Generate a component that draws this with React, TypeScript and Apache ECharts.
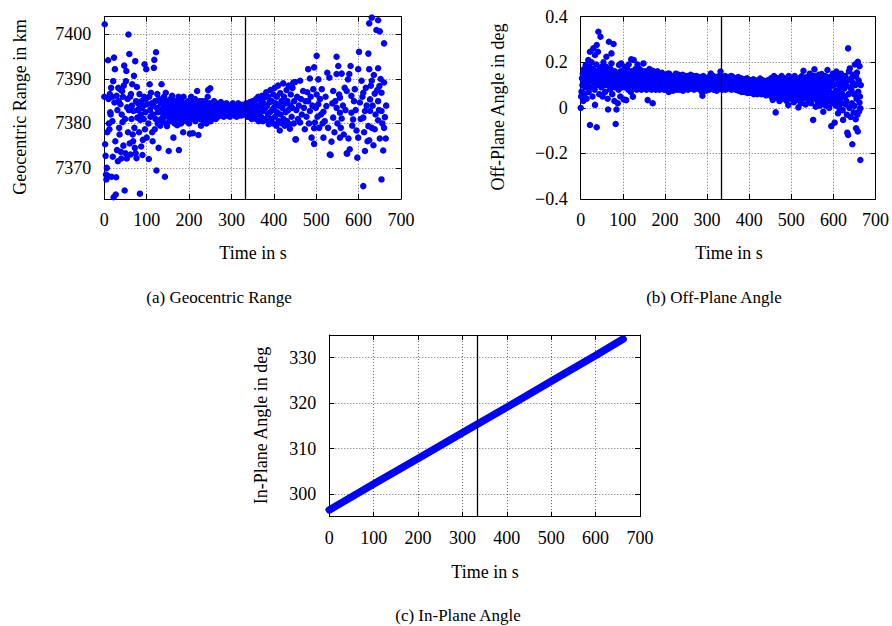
import React, { useEffect, useRef } from "react";
import * as echarts from "echarts";

const FONT = '"Liberation Serif", "Times New Roman", serif';

// (a) Geocentric range: [time in s, range in km]
const geocentricRange: [number, number][] = [
  [0,7386],[1,7402.3],[2,7375.3],[3,7372.7],[4,7368.5],[5,7367.4],[6,7370],[7,7378],[8,7368.2],[9,7394.2],[10,7385.5],[11,7380],[12,7378.7],[13,7386.6],[14,7382.5],[15,7382],[16,7388],[17,7368],[18,7386],[19,7380.5],[20,7372.5],[21,7389.5],[22,7363.4],[23,7394.8],[24,7384.7],[25,7392.2],[26,7376],[27,7364],[28,7367.9],[29,7386.2],[30,7374],[31,7383],[32,7371.5],[33,7388],[34,7385],[35,7379],[36,7377.5],[37,7387.7],[38,7384.3],[39,7373.6],[40,7372.1],[41,7382],[42,7387.3],[43,7380.3],[44,7386],[45,7375],[46,7388.5],[47,7393],[48,7364.9],[49,7381],[50,7373.3],[51,7389.5],[52,7391.8],[53,7372.1],[54,7383.6],[55,7385.5],[56,7378],[57,7400],[58,7383],[59,7395.6],[60,7375.5],[61,7386],[62,7373],[63,7386.6],[64,7381],[65,7384],[66,7388.8],[67,7377.5],[68,7376],[69,7382.8],[70,7390.7],[71,7379],[72,7374.5],[73,7394],[74,7373.3],[75,7385],[76,7372.2],[77,7388.2],[78,7381.3],[79,7383],[80,7384.5],[81,7383.2],[82,7378],[83,7386.6],[84,7364.2],[85,7380.8],[86,7382],[87,7374.8],[88,7385],[89,7383.5],[90,7372.9],[91,7376.3],[92,7384],[93,7381],[94,7386],[95,7393.3],[96,7378.7],[97,7382.5],[98,7385.5],[99,7392.2],[100,7376.8],
  [102,7384.3],[104,7380],[105,7372],[106,7386],[107,7388.8],[108,7383],[109,7381.5],[110,7386.9],[111,7381.6],[112,7384.5],[113,7378],[114,7376],[115,7384],[116,7382],[117,7392.5],[118,7394.3],[119,7378.7],[120,7385],[121,7381],[122,7396],[123,7369.4],[124,7383.5],[125,7386.6],[126,7380],[127,7382.5],[128,7374.5],[129,7385.5],[130,7383],[131,7382.8],[132,7379.5],[133,7384.5],[134,7381],[135,7388.8],[136,7383],[137,7385],[138,7380.5],[139,7382],[140,7384],[141,7386],[142,7381.5],[143,7368],[144,7383],[145,7386.9],[146,7380],[147,7383.6],[148,7379.4],[149,7385],[150,7382],[152,7373.8],[153,7384.5],[154,7381],[155,7383],[156,7385.5],[157,7380.5],[158,7382.5],[159,7384],[160,7386.2],[161,7381.8],[162,7383.5],[163,7376.8],[164,7385],[165,7382],[166,7380],[167,7384.6],[168,7383],[169,7381],[170,7385],[171,7382],[172,7379.6],[173,7383.5],[174,7381.5],[175,7386],[176,7374],[177,7383],[178,7381],[179,7384],[180,7382.5],[181,7380],[182,7385],[183,7383],[184,7381.5],[185,7384],[186,7378],[187,7386],[188,7382],[189,7383.8],[190,7381],[191,7384.5],[192,7382.5],[193,7380.5],[194,7383],[195,7384.3],[196,7381.5],[197,7383],[198,7385],[199,7382],[200,7380],
  [202,7377.7],[203,7384],[204,7382],[205,7386],[206,7381],[207,7383.5],[208,7385],[209,7377.8],[210,7382.5],[211,7384],[212,7381],[213,7383],[214,7385.5],[215,7380.5],[216,7383],[217,7382],[218,7384.5],[219,7387.3],[220,7381.5],[221,7383],[222,7377.4],[223,7384],[224,7382],[225,7385],[226,7381],[227,7383.5],[228,7379.5],[229,7384],[230,7382.5],[231,7385],[232,7381],[233,7383],[234,7384.5],[235,7380.5],[236,7383],[237,7382],[238,7385],[239,7381.5],[240,7383.5],[241,7380],[242,7384],[243,7382.5],[244,7386],[245,7387.5],[246,7381],[247,7383],[248,7384.5],[249,7382],[250,7387.9],[251,7380.5],[252,7383.5],[254,7382],[255,7384.5],[256,7381.5],[258,7383],[259,7385],[260,7382],[262,7383.8],[263,7381],[264,7384.5],[266,7382.5],[267,7383.5],[268,7381.5],[270,7384],[271,7382.8],[272,7383.5],[274,7381.8],[275,7384.8],[276,7383],[278,7382.2],[279,7384.2],[280,7383],[282,7381.5],[283,7384],[284,7382.8],[286,7383.8],[287,7382],[288,7384.5],[290,7383],[291,7381.8],[292,7384],[294,7382.5],[295,7383.5],[296,7381.5],[298,7384],[299,7382.8],[300,7383.5],[302,7382],[303,7384.5],[304,7383],[306,7381.8],[307,7383.8],[308,7382.5],[310,7384],[311,7383],[312,7381.5],[314,7383.5],[315,7382.2],[316,7384.5],[318,7383],[319,7381.8],[320,7384],[322,7382.5],[323,7383.5],[324,7381.8],[326,7384.2],[327,7383],[328,7382],[330,7384],[331,7382.5],[332,7383.5],
  [334,7382],[335,7384.5],[336,7383],[338,7381.5],[339,7384],[340,7382.8],[342,7383.8],[343,7381.5],[344,7384.8],[346,7382.5],[347,7383.5],[348,7381],[350,7385],[351,7382],[352,7383.8],[354,7381.2],[355,7384.5],[356,7383],[358,7385.5],[359,7381],[360,7383.5],[362,7382],[363,7386],[364,7380.5],[366,7384],[367,7382.5],[368,7385.2],[370,7381.5],[371,7383.8],[372,7386.2],[374,7380.5],[375,7384.5],[376,7382.8],[378,7385.8],[379,7381],[380,7383.5],[382,7387],[383,7380.8],[384,7384],[386,7382],[387,7386],[388,7379.8],[390,7384.8],[391,7382.5],[392,7387.5],[394,7381],[395,7385],[396,7383],[398,7380],[399,7386.5],[400,7383.5],[402,7388],[403,7381.5],[404,7384.5],[406,7379.5],[407,7386],[408,7382.5],[410,7388.5],[411,7380.5],[412,7384],[414,7378.4],[415,7386.8],[416,7382],[418,7385],[419,7380],[420,7383.5],[422,7389],[423,7381],[424,7386],[426,7379.5],[427,7384.5],[428,7382.5],[430,7387.5],[431,7380.5],[432,7385],[434,7383],[435,7388.5],[436,7379.8],[438,7378.8],[439,7384],[440,7386.5],[442,7381.5],[443,7383.5],[444,7388],[446,7389.2],[447,7380],[448,7385],[450,7389.3],[451,7376.4],[452,7376.4],[453,7383],
  [455,7386],[457,7381],[459,7384],[462,7389.6],[462,7380.2],[464,7385.5],[466,7382],[469,7387.3],[471,7383.5],[473,7378.7],[475,7385],[477,7381.5],[479,7387],[481,7392.2],[481,7385],[483,7380],[485,7390.1],[485,7382.8],[487,7386],[489,7376.8],[491,7384],[493,7387.7],[495,7392.6],[495,7378.9],[495,7375.4],[497,7380.2],[499,7383.5],[501,7395.2],[501,7386.5],[503,7381.5],[505,7389.9],[505,7384.3],[507,7379],[509,7385.5],[511,7382],[513,7387.7],[515,7380],[517,7382.6],[517,7376.8],[520,7380.5],[522,7386],[524,7383.9],[526,7391.4],[528,7379],[531,7390.3],[532,7373],[534,7372.9],[536,7375.9],[538,7384.5],[540,7387.3],[540,7381.3],[543,7378],[545,7385],[548,7395],[548,7391.1],[548,7383.5],[550,7380],[552,7392.9],[554,7386.5],[556,7385.8],[556,7382.4],[556,7376.8],[558,7379],[560,7391.2],[560,7381.1],[563,7384],[565,7377.5],[567,7388],[569,7383],[572,7387.3],[572,7373.3],[573,7373.2],[575,7389.9],[576,7376.6],[578,7391.1],[579,7374.2],[581,7392.9],[583,7386.2],[583,7382.4],[585,7379.5],[587,7380.9],[589,7385],[591,7387.7],[593,7383],[595,7378.4],[597,7372.3],[599,7392.2],[599,7376.8],[601,7396.1],[603,7384.7],[605,7381],[607,7389.6],[609,7386],[611,7386.9],[611,7381.3],[611,7365.9],[613,7378],[615,7382.8],[615,7373.8],[617,7388],[619,7384],[621,7376],[623,7395.7],[623,7379.4],[625,7402.5],[625,7392.2],[625,7376.2],[627,7385.4],[627,7382.8],[629,7388.5],[631,7403.8],[631,7389.6],[631,7379],[633,7384],[635,7375.1],[636,7390.9],[638,7386.7],[638,7378.7],[640,7382],[642,7401],[644,7387.5],[646,7403.2],[646,7392.4],[646,7385],[646,7380.7],[648,7383],[649,7388.4],[650,7400.7],[650,7376.6],[652,7390],[654,7386.9],[654,7382.8],[654,7367.4],[656,7380],[658,7373.9],[660,7398],[660,7389.2],[660,7379],[662,7381.4],[664,7376.6],[665,7384],
];

// (b) Off-plane angle: [time in s, angle in deg]
const offPlaneAngle: [number, number][] = [
  [0,0.0],[1,0.05],[2,0.071],[3,0.13],[4,0.1],[5,0.15],[6,0.03],[7,0.11],[8,0.17],[9,0.06],[10,0.122],[11,0.09],[12,0.188],[13,0.14],[14,0.04],[15,0.16],[16,0.1],[17,0.12],[18,0.21],[19,0.07],[20,0.15],[21,0.18],[22,0.246],[22,-0.075],[23,0.12],[24,0.09],[25,0.16],[26,0.2],[27,0.13],[28,0.05],[29,0.17],[30,0.261],[31,0.11],[32,0.14],[33,0.08],[34,0.232],[34,0.013],[35,0.16],[36,0.12],[37,0.19],[38,0.276],[38,-0.085],[39,0.1],[40,0.15],[41,0.246],[42,0.334],[43,0.13],[44,0.06],[45,0.17],[46,0.11],[47,0.312],[48,0.14],[49,0.09],[50,0.18],[51,0.12],[52,0.05],[53,0.15],[54,0.2],[55,0.1],[56,0.13],[57,0.16],[58,0.07],[59,0.12],[60,0.18],[61,0.224],[62,0.1],[63,0.14],[64,0.04],[65,-0.007],[66,0.16],[67,0.29],[68,0.11],[69,0.13],[70,0.08],[71,0.17],[72,0.12],[73,0.239],[73,0.195],[74,0.15],[75,0.06],[76,0.1],[77,0.14],[78,0.28],[79,0.11],[80,0.03],[81,0.16],[82,0.09],[83,-0.071],[84,0.13],[85,-0.007],[86,0.1],[87,0.15],[88,0.02],[89,0.12],[90,0.08],[91,0.188],[92,0.14],[93,0.1],[94,0.05],[95,0.16],[96,0.195],[97,0.12],[98,0.09],[100,0.14],
  [101,0.16],[102,0.037],[103,0.11],[104,0.18],[105,0.13],[106,0.09],[107,0.15],[108,0.034],[109,0.12],[110,0.17],[111,0.1],[112,0.14],[113,0.08],[114,0.19],[115,0.12],[116,0.15],[117,0.1],[118,0.13],[119,0.07],[120,0.213],[121,0.16],[122,0.11],[123,0.14],[124,0.049],[125,0.12],[126,0.21],[127,0.09],[128,0.15],[129,0.13],[130,0.17],[131,0.1],[132,0.12],[133,0.08],[134,0.15],[135,0.19],[136,0.11],[137,0.14],[138,0.09],[139,0.12],[140,0.17],[141,0.1],[142,0.13],[143,0.15],[144,0.08],[145,0.12],[146,0.16],[147,0.1],[148,0.14],[149,0.195],[150,0.11],[151,0.09],[152,0.13],[153,0.16],[154,0.1],[155,0.12],[156,0.08],[157,0.15],[158,0.11],[159,0.034],[160,0.14],[161,0.1],[162,0.12],[163,0.17],[164,0.09],[165,0.13],[166,0.11],[167,0.15],[168,0.08],[169,0.12],[170,0.14],[171,0.163],[171,0.02],[172,0.1],[173,0.12],[174,0.09],[175,0.15],[176,0.11],[177,0.13],[178,0.08],[179,0.14],[180,0.1],[181,0.12],[182,0.16],[183,0.09],[184,0.13],[185,0.11],[186,0.14],[187,0.08],[188,0.12],[189,0.1],[190,0.15],[191,0.11],[192,0.13],[193,0.154],[194,0.09],[195,0.12],[196,0.1],[197,0.14],[198,0.08],[199,0.12],
  [200,0.11],[201,0.13],[202,0.14],[203,0.08],[204,0.09],[205,0.115],[206,0.12],[207,0.15],[208,0.1],[209,0.07],[210,0.15],[211,0.11],[212,0.08],[213,0.135],[214,0.13],[215,0.095],[216,0.11],[217,0.12],[218,0.14],[219,0.075],[220,0.09],[221,0.13],[222,0.12],[223,0.1],[224,0.1],[225,0.14],[226,0.15],[227,0.085],[228,0.08],[229,0.12],[230,0.13],[231,0.095],[232,0.11],[233,0.145],[234,0.14],[235,0.08],[236,0.09],[237,0.125],[238,0.12],[239,0.1],[240,0.1],[241,0.135],[242,0.145],[243,0.075],[244,0.085],[245,0.115],[246,0.12],[247,0.095],[248,0.1],[249,0.14],[250,0.135],
  [251,0.09],[252,0.12],[253,0.1],[254,0.14],[255,0.08],[256,0.11],[257,0.13],[258,0.095],[259,0.12],[260,0.1],[261,0.145],[262,0.085],[263,0.11],[264,0.13],[265,0.09],[266,0.12],[267,0.1],[268,0.14],[269,0.08],[270,0.115],[271,0.13],[272,0.095],[273,0.12],[274,0.1],[275,0.14],[276,0.085],[277,0.11],[278,0.125],[279,0.09],[280,0.12],[281,0.1],[282,0.135],[283,0.08],[284,0.11],[285,0.13],[286,0.095],[287,0.12],[288,0.07],[289,0.053],[290,0.1],[291,0.14],[292,0.085],[293,0.115],[294,0.1],[295,0.13],[296,0.09],[297,0.12],[298,0.075],[299,0.105],[300,0.13],[301,0.09],[302,0.115],[303,0.1],[304,0.135],[305,0.08],[306,0.11],[307,0.125],[308,0.09],[309,0.151],[310,0.1],[311,0.13],[312,0.085],[313,0.115],[314,0.1],[315,0.14],[316,0.08],[317,0.11],[318,0.125],[319,0.095],[320,0.12],[321,0.1],[322,0.135],[323,0.075],[324,0.11],[325,0.13],[326,0.09],[327,0.115],[328,0.1],[329,0.14],[330,0.085],[331,0.12],[332,0.159],[333,0.095],[334,0.11],[335,0.13],[336,0.08],[337,0.115],[338,0.1],[339,0.135],[340,0.09],[341,0.12],[342,0.105],[343,0.14],[344,0.08],[345,0.11],[346,0.125],[347,0.09],[348,0.12],[349,0.1],[350,0.135],[351,0.085],[352,0.11],[353,0.13],[354,0.095],[355,0.115],[356,0.1],[357,0.14],[358,0.08],[359,0.12],[360,0.137],[361,0.09],[362,0.11],[363,0.125],[364,0.085],[365,0.115],[366,0.1],[367,0.13],[368,0.08],[369,0.11],[370,0.125],[371,0.09],[372,0.115],[373,0.1],[374,0.135],[375,0.075],[376,0.105],[377,0.12],[378,0.09],[379,0.11],[380,0.1],[381,0.13],[382,0.07],[383,0.1],[384,0.12],[385,0.085],[386,0.11],[387,0.095],[388,0.125],[389,0.07],[390,0.1],[391,0.12],[392,0.085],[393,0.11],[394,0.095],[395,0.13],[396,0.065],[397,0.1],[398,0.115],[399,0.122],[400,0.08],[401,0.105],[402,0.09],[403,0.12],[404,0.065],[405,0.1],[406,0.11],[407,0.08],[408,0.115],[409,0.095],[410,0.125],[411,0.06],[412,0.09],[413,0.11],[414,0.075],[415,0.1],[416,0.12],[417,0.085],[418,0.105],[419,0.06],[420,0.095],[421,0.115],[422,0.08],[423,0.1],[424,0.12],[425,0.07],[426,0.129],[427,0.09],[428,0.105],[429,0.06],[430,0.085],[431,0.11],[432,0.075],[433,0.1],[434,0.12],[435,0.065],[436,0.09],[437,0.105],[438,0.08],[439,0.115],[440,0.055],[441,0.095],[442,0.07],[443,0.1],[444,0.12],[445,0.08],[446,0.122],[447,0.06],[448,0.09],[449,0.105],[450,0.075],
  [452,0.13],[453,0.05],[454,0.09],[455,0.11],[456,0.035],[457,0.075],[458,0.1],[459,0.14],[460,0.06],[461,0.085],[462,0.12],[463,-0.02],[464,0.07],[465,0.1],[466,0.045],[467,0.13],[468,0.08],[469,0.06],[470,0.11],[471,0.09],[472,0.03],[473,0.12],[474,0.07],[475,0.1],[476,0.05],[477,0.14],[478,0.085],[479,0.065],[480,0.11],[481,0.04],[482,0.095],[483,0.13],[484,0.07],[485,0.1],[486,0.055],[487,0.085],[488,0.12],[489,0.03],[490,0.075],[491,0.1],[492,0.06],[493,0.012],[494,0.14],[495,0.09],[496,0.05],[497,0.11],[498,0.07],[499,0.13],[500,0.04],[501,0.095],[502,0.075],[503,0.12],[504,0.06],[505,0.1],[506,0.025],[507,0.085],[508,0.14],[509,0.065],[510,0.11],[511,0.045],[512,0.09],[513,0.125],[514,0.07],[515,0.035],[516,0.1],[517,0.002],[518,0.08],[519,0.13],[520,0.055],[521,0.11],[522,0.075],[523,0.02],[524,0.095],[525,0.14],[526,0.06],[527,0.1],[528,0.04],[529,0.163],[530,0.08],[531,0.12],[532,0.05],[533,0.09],[534,0.015],[535,0.11],[536,0.07],[537,0.135],[538,0.045],[539,0.1],[540,0.065],[541,0.12],[542,0.03],[543,0.085],[544,0.15],[545,0.06],[546,0.1],[547,0.02],[548,0.08],[549,0.125],[550,0.045],[551,0.095],[552,-0.053],[553,0.07],[554,0.14],[555,0.169],[556,0.04],[557,0.11],[558,0.005],[559,0.08],[560,0.13],[561,0.055],[562,0.1],[563,0.025],[564,0.075],[565,0.145],[566,0.05],[567,0.115],[568,0.01],[569,0.085],[570,0.13],[571,0.04],[572,0.148],[573,0.065],[574,0.1],[575,0.02],[576,-0.017],[577,0.09],[578,0.12],[579,0.045],[580,0.075],[581,0.14],[582,0.01],[583,0.1],[584,0.055],[585,0.125],[586,0.166],[587,0.03],[588,0.085],[589,0.11],[590,0.0],[591,0.07],[592,0.135],[593,0.04],[594,0.095],[595,-0.08],[596,0.12],[597,0.02],[598,0.06],[599,0.15],[600,0.03],
  [601,0.1],[602,0.045],[603,-0.065],[604,0.13],[605,0.075],[606,0.01],[607,0.159],[608,0.055],[609,0.105],[610,0.025],[611,-0.024],[612,0.14],[613,0.08],[614,0.0],[615,0.12],[616,0.04],[617,0.095],[618,0.15],[619,0.02],[620,0.065],[621,0.11],[622,-0.01],[623,-0.053],[624,0.13],[625,0.05],[626,0.085],[627,0.049],[628,0.14],[629,0.015],[630,0.1],[631,0.03],[632,-0.03],[633,-0.109],[634,0.12],[635,0.261],[635,-0.119],[636,0.06],[637,0.16],[638,0.0],[639,0.173],[640,0.09],[641,-0.04],[642,0.13],[643,0.078],[644,0.02],[645,-0.16],[646,0.11],[647,0.145],[648,-0.02],[649,0.06],[650,0.008],[651,0.19],[652,0.1],[653,-0.05],[654,0.137],[654,-0.09],[655,0.04],[656,0.155],[657,-0.03],[658,0.202],[658,-0.104],[659,0.07],[660,0.12],[661,-0.015],[662,0.183],[662,0.023],[663,0.05],[664,-0.002],[664,-0.229],[665,0.1],
];

// (c) In-plane angle: [time in s, angle in deg]
const inPlaneAngle: [number, number][] = [
  [0,296.5],[100,302.2],[200,307.8],[300,313.5],[400,319.1],[500,324.8],[600,330.5],[662,334.1],
];

// vertical marker time (s)
const SPLIT_TIME = 333;

// axis ranges
const X_MIN = 0, X_MAX = 700, X_STEP = 100;
const A_Y_MIN = 7363, A_Y_MAX = 7404, A_Y_STEP = 10;
const B_Y_MIN = -0.4, B_Y_MAX = 0.4, B_Y_STEP = 0.2;
const C_Y_MIN = 295, C_Y_MAX = 335, C_Y_STEP = 10;

// texts
const X_TITLE = "Time in s";
const Y_TITLES = ["Geocentric Range in km", "Off-Plane Angle in deg", "In-Plane Angle in deg"];
const CAPTIONS = ["(a) Geocentric Range", "(b) Off-Plane Angle", "(c) In-Plane Angle"];

const BLUE = "#0000ff";
const FS = 18;

const gridLine = { show: true, lineStyle: { color: "#6a6a6a", type: [1, 2], width: 1 } };
const frame = { show: true, onZero: false, lineStyle: { color: "#000", width: 1 } };
const tick = { show: true, inside: true, length: 5, lineStyle: { color: "#000", width: 1 } };
const label = { color: "#000", fontFamily: FONT, fontSize: FS };

function xAxes(gridIndex: number) {
  return [
    {
      type: "value", gridIndex, position: "bottom", min: X_MIN, max: X_MAX, interval: X_STEP,
      axisLine: frame, axisTick: tick, splitLine: gridLine,
      axisLabel: { ...label, margin: 12 },
    },
    {
      type: "value", gridIndex, position: "top", min: X_MIN, max: X_MAX, interval: X_STEP,
      axisLine: frame, axisTick: tick, splitLine: { show: false }, axisLabel: { show: false },
    },
  ];
}

function yAxes(gridIndex: number, min: number, max: number, step: number, fmt: (v: number) => string) {
  const common = { type: "value", gridIndex, min, max, minInterval: step, maxInterval: step, splitNumber: Math.round((max - min) / step) };
  return [
    { ...common, position: "left", axisLine: frame, axisTick: tick, splitLine: gridLine, axisLabel: { ...label, margin: 13, formatter: fmt, showMinLabel: true, showMaxLabel: true } },
    { ...common, position: "right", axisLine: frame, axisTick: tick, splitLine: { show: false }, axisLabel: { show: false } },
  ];
}

const onStep = (step: number) => (v: number) => {
  const r = Math.round(v / step) * step;
  return Math.abs(r - v) < 1e-6 ? String(Math.round(r)) : "";
};
const angleFmt = (v: number) => {
  if (Math.abs(v) < 1e-9) return "0";
  const s = Math.abs(v).toFixed(1);
  return v < 0 ? "\u2212" + s : s;
};

const markLine = {
  silent: true, symbol: ["none", "none"], label: { show: false },
  lineStyle: { color: "#000", type: "solid", width: 1.3 },
  data: [{ xAxis: SPLIT_TIME }],
};

function text(x: number, y: number, t: string, rotation = 0, size = FS) {
  return {
    type: "text", x, y, rotation, z: 10,
    style: { text: t, font: `${size}px ${FONT}`, fill: "#000", textAlign: "center", textVerticalAlign: "middle", verticalAlign: "middle" },
  };
}

export default function App() {
  const ref = useRef<HTMLDivElement>(null);
  useEffect(() => {
    if (!ref.current) return;
    const chart = echarts.init(ref.current, undefined, { renderer: "svg" });
    const option: any = {
      animation: false,
      backgroundColor: "#fff",
      textStyle: { fontFamily: FONT },
      grid: [
        { left: 104.3, top: 16.7, width: 296.7, height: 182.3 },
        { left: 580.7, top: 16.7, width: 297, height: 182.3 },
        { left: 329.3, top: 335, width: 310.7, height: 181.7 },
      ],
      xAxis: [...xAxes(0), ...xAxes(1), ...xAxes(2)],
      yAxis: [
        ...yAxes(0, A_Y_MIN, A_Y_MAX, A_Y_STEP, onStep(A_Y_STEP)),
        ...yAxes(1, B_Y_MIN, B_Y_MAX, B_Y_STEP, angleFmt),
        ...yAxes(2, C_Y_MIN, C_Y_MAX, C_Y_STEP, onStep(C_Y_STEP)),
      ],
      series: [
        { type: "scatter", xAxisIndex: 0, yAxisIndex: 0, data: geocentricRange, symbolSize: 6.5, itemStyle: { color: BLUE, opacity: 1 }, markLine },
        { type: "scatter", xAxisIndex: 2, yAxisIndex: 2, data: offPlaneAngle, symbolSize: 6.5, itemStyle: { color: BLUE, opacity: 1 }, markLine },
        { type: "line", xAxisIndex: 4, yAxisIndex: 4, data: inPlaneAngle, showSymbol: false, lineStyle: { color: BLUE, width: 7.5, cap: "round", opacity: 1 }, markLine },
      ],
      graphic: [
        text(20, 107, Y_TITLES[0], Math.PI / 2),
        text(498, 107, Y_TITLES[1], Math.PI / 2),
        text(261, 425.5, Y_TITLES[2], Math.PI / 2),
        text(253, 253, X_TITLE),
        text(729, 253, X_TITLE),
        text(485, 571.5, X_TITLE),
        text(219, 297, CAPTIONS[0], 0, 17),
        text(714, 297, CAPTIONS[1], 0, 17),
        text(458, 615, CAPTIONS[2], 0, 17),
      ],
    };
    chart.setOption(option);
    return () => chart.dispose();
  }, []);
  return <div ref={ref} style={{ position: "absolute", left: 0, top: 0, width: 892, height: 626, background: "#fff" }} />;
}
